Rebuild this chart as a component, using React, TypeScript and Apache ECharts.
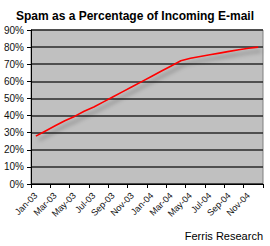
import React, { useEffect, useRef } from "react";
import * as echarts from "echarts";

const months: string[] = [
  "Jan-03", "Feb-03", "Mar-03", "Apr-03", "May-03", "Jun-03", "Jul-03", "Aug-03",
  "Sep-03", "Oct-03", "Nov-03", "Dec-03", "Jan-04", "Feb-04", "Mar-04", "Apr-04",
  "May-04", "Jun-04", "Jul-04", "Aug-04", "Sep-04", "Oct-04", "Nov-04", "Dec-04",
];
const spamPct: number[] = [
  28, 31, 34, 37, 39.5, 42.5, 45, 48, 51, 54, 57, 60,
  63, 66, 69, 72, 73.5, 74.5, 75.5, 76.5, 77.5, 78.5, 79.3, 80,
];
const titleText = "Spam as a Percentage of Incoming E-mail";
const sourceText = "Ferris Research";

export default function App() {
  const ref = useRef<HTMLDivElement>(null);
  useEffect(() => {
    if (!ref.current) return;
    const chart = echarts.init(ref.current, undefined, { renderer: "svg" });
    chart.setOption({
      animation: false,
      backgroundColor: "#ffffff",
      title: {
        text: titleText,
        left: "center",
        top: 5,
        textStyle: { fontFamily: "Liberation Sans", fontWeight: "bold", fontSize: 12, color: "#000" },
      },
      graphic: [
        {
          type: "text",
          right: 7,
          top: 230,
          style: { text: sourceText, fontFamily: "Liberation Sans", fontSize: 11, fill: "#000" },
        },
      ],
      grid: {
        left: 31,
        right: 7,
        top: 30,
        bottom: 62,
        show: true,
        backgroundColor: "#c0c0c0",
        borderColor: "#808080",
        borderWidth: 1,
      },
      xAxis: {
        type: "category",
        data: months,
        boundaryGap: true,
        axisLine: { lineStyle: { color: "#000", width: 1 } },
        axisTick: { show: true, interval: 1, length: 4, lineStyle: { color: "#000" } },
        axisLabel: {
          interval: 1,
          rotate: 45,
          fontFamily: "Liberation Sans",
          fontSize: 9,
          color: "#111",
          margin: 10,
        },
        splitLine: { show: false },
      },
      yAxis: {
        type: "value",
        min: 0,
        max: 90,
        interval: 10,
        axisLine: { show: true, lineStyle: { color: "#000", width: 1 } },
        axisTick: { show: true, length: 4, lineStyle: { color: "#000" } },
        axisLabel: {
          formatter: "{value}%",
          fontFamily: "Liberation Sans",
          fontSize: 10,
          color: "#111",
          margin: 7,
        },
        splitLine: { show: true, lineStyle: { color: "#2a2a2a", width: 1.5 } },
      },
      series: [
        {
          type: "line",
          data: spamPct,
          symbol: "none",
          smooth: false,
          lineStyle: {
            color: "#ff0000",
            width: 1.6,
            shadowColor: "rgba(0,0,0,0.4)",
            shadowBlur: 4,
            shadowOffsetX: 3,
            shadowOffsetY: 4,
          },
        },
      ],
    });
    return () => chart.dispose();
  }, []);
  return <div ref={ref} style={{ position: "absolute", left: 0, top: 0, width: 270, height: 246 }} />;
}
